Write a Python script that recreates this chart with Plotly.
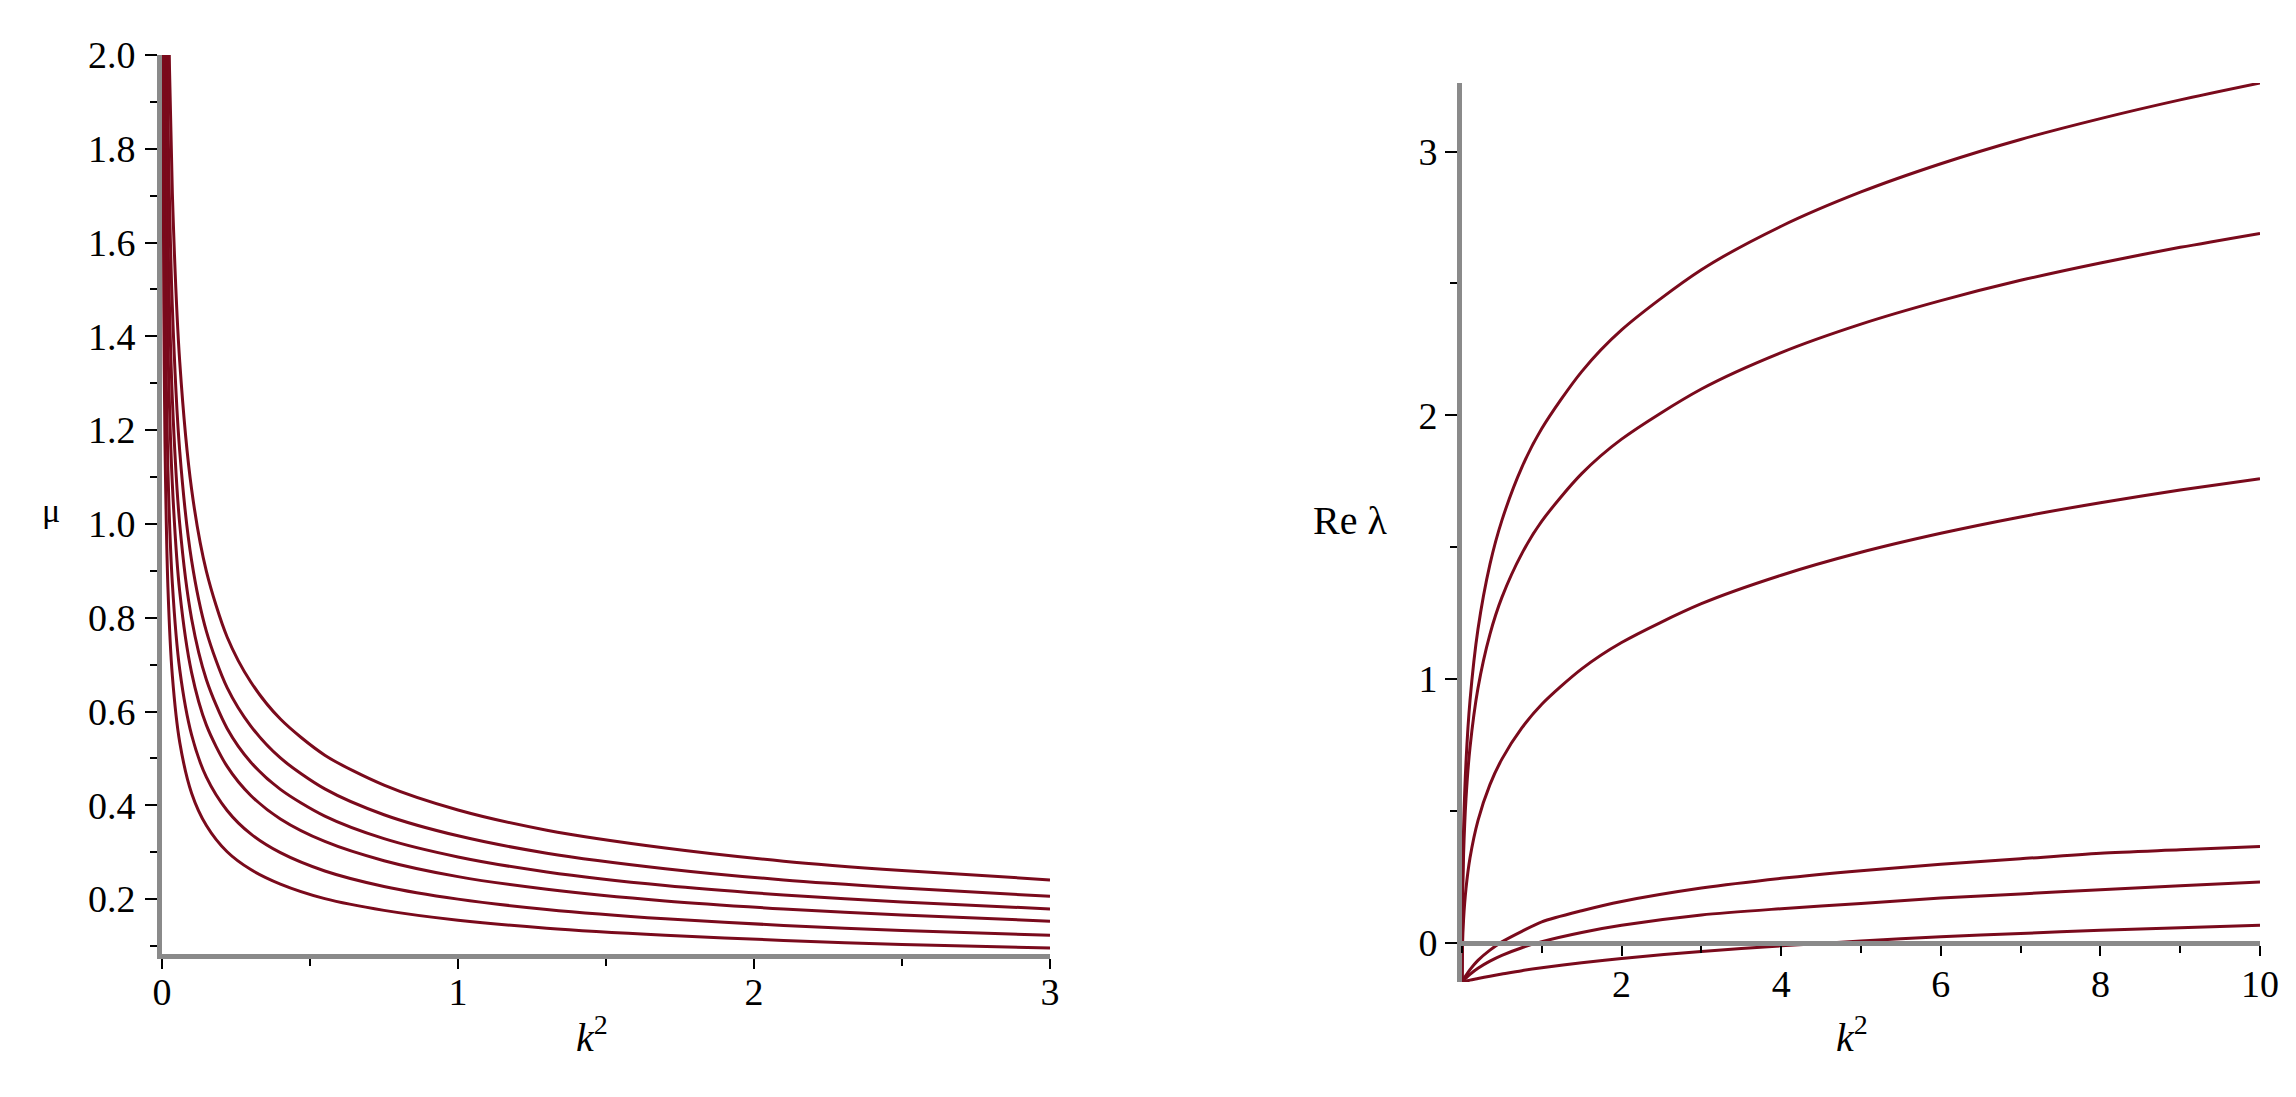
import plotly.graph_objects as go

W, H = 2296, 1097

# ---------------- Left panel: mu vs k^2 ----------------
k2_left = [0.001, 0.003, 0.006, 0.01, 0.02, 0.035, 0.06, 0.1, 0.15, 0.22,
           0.3, 0.4, 0.55, 0.75, 1.0, 1.3, 1.7, 2.1, 2.5, 3.0]
mu_1 = [8.15, 5.02, 3.705, 2.960, 2.180, 1.704, 1.345, 1.074, 0.899, 0.759,
        0.663, 0.584, 0.507, 0.443, 0.390, 0.347, 0.309, 0.281, 0.261, 0.241]
mu_2 = [6.99, 4.310, 3.179, 2.540, 1.870, 1.462, 1.154, 0.922, 0.771, 0.651,
        0.569, 0.501, 0.435, 0.380, 0.335, 0.298, 0.265, 0.241, 0.224, 0.206]
mu_3 = [6.05, 3.731, 2.752, 2.199, 1.619, 1.266, 0.999, 0.798, 0.668, 0.564,
        0.492, 0.434, 0.377, 0.329, 0.290, 0.258, 0.229, 0.209, 0.194, 0.179]
mu_4 = [5.18, 3.194, 2.356, 1.882, 1.386, 1.084, 0.855, 0.683, 0.571, 0.483,
        0.421, 0.371, 0.323, 0.282, 0.248, 0.221, 0.196, 0.179, 0.166, 0.153]
mu_5 = [4.17, 2.572, 1.897, 1.516, 1.116, 0.873, 0.689, 0.550, 0.460, 0.389,
        0.339, 0.299, 0.260, 0.227, 0.200, 0.178, 0.158, 0.144, 0.133, 0.123]
mu_6 = [3.24, 1.994, 1.471, 1.175, 0.865, 0.676, 0.534, 0.426, 0.357, 0.301,
        0.263, 0.232, 0.201, 0.176, 0.155, 0.138, 0.123, 0.112, 0.103, 0.096]
mu_series = [mu_1, mu_2, mu_3, mu_4, mu_5, mu_6]

left_yticks = [0.2, 0.4, 0.6, 0.8, 1.0, 1.2, 1.4, 1.6, 1.8, 2.0]
left_xticks = [0, 1, 2, 3]

# ---------------- Right panel: Re lambda vs k^2 ----------------
k2_right = [0, 0.005, 0.02, 0.05, 0.1, 0.2, 0.35, 0.5, 0.75, 1, 1.5, 2,
            3, 4, 5, 6, 7, 8, 9, 10]
lam_1 = [-0.148, 0.177, 0.437, 0.685, 0.918, 1.189, 1.435, 1.602, 1.803, 1.950,
         2.166, 2.324, 2.552, 2.717, 2.847, 2.954, 3.046, 3.125, 3.196, 3.260]
lam_2 = [-0.148, 0.122, 0.339, 0.546, 0.740, 0.966, 1.170, 1.310, 1.476, 1.599,
         1.779, 1.910, 2.100, 2.238, 2.346, 2.435, 2.512, 2.578, 2.637, 2.690]
lam_3 = [-0.148, -0.021, 0.091, 0.206, 0.322, 0.464, 0.600, 0.697, 0.815, 0.905,
         1.039, 1.139, 1.286, 1.394, 1.481, 1.553, 1.615, 1.669, 1.717, 1.760]
lam_4 = [-0.148, -0.145, -0.137, -0.123, -0.101, -0.066, -0.027, 0.004, 0.044, 0.080,
         0.122, 0.157, 0.208, 0.245, 0.274, 0.298, 0.319, 0.340, 0.353, 0.366]
lam_5 = [-0.148, -0.146, -0.142, -0.133, -0.119, -0.096, -0.069, -0.047, -0.018, 0.005,
         0.040, 0.067, 0.106, 0.130, 0.150, 0.170, 0.186, 0.202, 0.217, 0.231]
lam_6 = [-0.148, -0.148, -0.147, -0.145, -0.141, -0.135, -0.126, -0.118, -0.105, -0.094,
         -0.075, -0.059, -0.032, -0.011, 0.007, 0.024, 0.036, 0.048, 0.058, 0.067]
lam_series = [lam_1, lam_2, lam_3, lam_4, lam_5, lam_6]

right_yticks = [0, 1, 2, 3]
right_xticks = [2, 4, 6, 8, 10]

CURVE = "#7a0a1c"
AXIS = "#8a8a8a"
FONT = "Liberation Serif"

fig = go.Figure()
for s in mu_series:
    fig.add_trace(go.Scatter(x=k2_left, y=s, mode="lines", xaxis="x", yaxis="y",
                             line=dict(color=CURVE, width=3, shape="spline", smoothing=0.8),
                             showlegend=False, hoverinfo="skip"))
for s in lam_series:
    fig.add_trace(go.Scatter(x=k2_right, y=s, mode="lines", xaxis="x2", yaxis="y2",
                             line=dict(color=CURVE, width=3, shape="spline", smoothing=0.8),
                             showlegend=False, hoverinfo="skip"))


def px_x(p):
    return p / W


def px_y(p):
    return 1 - p / H


tickfont = dict(family=FONT, size=38, color="black")

fig.update_layout(
    width=W, height=H,
    margin=dict(l=0, r=0, t=0, b=0),
    paper_bgcolor="white", plot_bgcolor="white",
    showlegend=False,
    xaxis=dict(domain=[px_x(162), px_x(1050)], range=[0, 3], anchor="y",
               tickvals=left_xticks, ticktext=[str(v) for v in left_xticks],
               showline=True, linecolor=AXIS, linewidth=5, showgrid=False, zeroline=False,
               ticks="outside", ticklen=10, tickwidth=2, tickcolor="black",
               ticklabelstandoff=-10, automargin=False,
               minor=dict(ticks="outside", ticklen=7, tickwidth=2, tickcolor="black",
                          dtick=0.5, tick0=0, showgrid=False),
               tickfont=tickfont, fixedrange=True),
    yaxis=dict(domain=[px_y(954), px_y(55)], range=[0.083, 2.0], anchor="x",
               tickvals=left_yticks, ticktext=["%.1f" % v for v in left_yticks],
               showline=True, linecolor=AXIS, linewidth=5, showgrid=False, zeroline=False,
               ticks="outside", ticklen=12, tickwidth=2, tickcolor="black",
               ticklabelstandoff=2, automargin=False,
               minor=dict(ticks="outside", ticklen=7, tickwidth=2, tickcolor="black",
                          dtick=0.1, tick0=0, showgrid=False),
               tickfont=tickfont, fixedrange=True),
    xaxis2=dict(domain=[px_x(1462), px_x(2260)], range=[0, 10], anchor="free",
                position=px_y(943),
                tickvals=right_xticks, ticktext=[str(v) for v in right_xticks],
                showline=True, linecolor=AXIS, linewidth=5, showgrid=False, zeroline=False,
                ticks="outside", ticklen=10, tickwidth=2, tickcolor="black",
                ticklabelstandoff=-5, automargin=False,
                minor=dict(ticks="outside", ticklen=7, tickwidth=2, tickcolor="black",
                           dtick=1, tick0=0, showgrid=False),
                tickfont=tickfont, fixedrange=True),
    yaxis2=dict(domain=[px_y(982), px_y(83)], range=[-0.148, 3.26], anchor="x2",
                tickvals=right_yticks, ticktext=[str(v) for v in right_yticks],
                showline=True, linecolor=AXIS, linewidth=5, showgrid=False, zeroline=False,
                ticks="outside", ticklen=12, tickwidth=2, tickcolor="black",
                ticklabelstandoff=0, automargin=False,
                minor=dict(ticks="outside", ticklen=7, tickwidth=2, tickcolor="black",
                           dtick=0.5, tick0=0, showgrid=False),
                tickfont=tickfont, fixedrange=True),
    annotations=[
        dict(text="μ", x=px_x(51), y=px_y(510), xref="paper", yref="paper",
             xanchor="center", yanchor="middle",
             showarrow=False, font=dict(family=FONT, size=34, color="black")),
        dict(text="<i>k</i><sup>2</sup>", x=px_x(592), y=px_y(1034), xref="paper", yref="paper",
             xanchor="center", yanchor="middle",
             showarrow=False, font=dict(family=FONT, size=40, color="black")),
        dict(text="Re λ", x=px_x(1350), y=px_y(520), xref="paper", yref="paper",
             xanchor="center", yanchor="middle",
             showarrow=False, font=dict(family=FONT, size=40, color="black")),
        dict(text="<i>k</i><sup>2</sup>", x=px_x(1852), y=px_y(1034), xref="paper", yref="paper",
             xanchor="center", yanchor="middle",
             showarrow=False, font=dict(family=FONT, size=40, color="black")),
    ],
)

fig.write_html("out.html",
               config={"displayModeBar": False, "staticPlot": True},
               post_script="document.body.style.margin='0';document.body.style.overflow='hidden';")
